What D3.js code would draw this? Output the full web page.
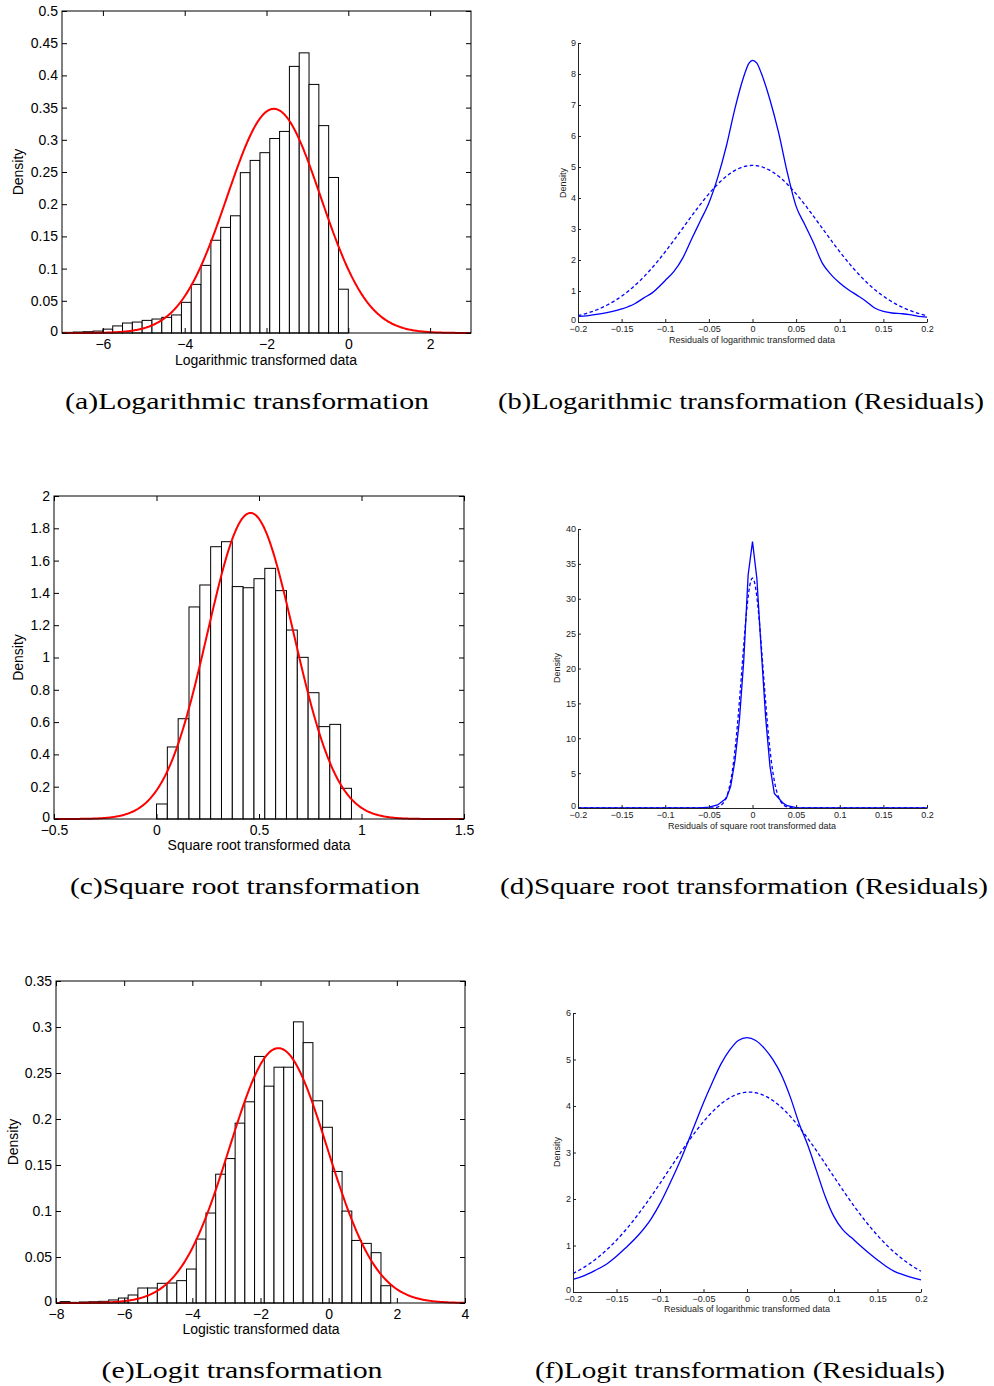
<!DOCTYPE html>
<html>
<head>
<meta charset="utf-8">
<script src="https://cdn.jsdelivr.net/npm/d3@7"></script>
<style>
  body { margin: 0; background: #fff; }
  svg text { font-family: "Liberation Sans", Arial, sans-serif; }
  .caption { font-family: "Liberation Serif", "Times New Roman", serif !important; }
</style>
</head>
<body>
<div id="chart"></div>
<script>
const width = 994;
const height = 1386;

// Histogram bins: [first edge, last edge] and the density of each bin
const logBins = [-6.96, 0];
const logDensity = [0.001, 0.0015, 0.002, 0.003, 0.006, 0.011, 0.0155, 0.017, 0.0196, 0.0217,
  0.0243, 0.028, 0.0476, 0.0755, 0.105, 0.144, 0.164, 0.182, 0.249, 0.268,
  0.280, 0.302, 0.313, 0.414, 0.435, 0.386, 0.322, 0.2415, 0.068];
const logFit = [-1.82, 1.146]; // fitted normal: mean, sd

const sqrtBins = [0, 0.951];
const sqrtDensity = [0.093, 0.446, 0.621, 1.313, 1.449, 1.686, 1.717, 1.439, 1.432, 1.488,
  1.552, 1.414, 1.170, 1.001, 0.782, 0.572, 0.586, 0.19];
const sqrtFit = [0.4586, 0.2105];

const logitBins = [-7.88, 1.82];
const logitDensity = [0.0015, 0.0007, 0.0011, 0.0014, 0.0018, 0.0033, 0.0054, 0.0087, 0.0163, 0.0163,
  0.0214, 0.0217, 0.0243, 0.0369, 0.0695, 0.0978, 0.140, 0.157, 0.1955, 0.2187,
  0.268, 0.2357, 0.2563, 0.2563, 0.3056, 0.283, 0.2198, 0.191, 0.143, 0.0999,
  0.068, 0.0648, 0.0547, 0.0188];
const logitFit = [-1.477, 1.44];

// Residual kernel densities (solid) and fitted normals (dashed)
const resLogX = [-0.2, -0.19, -0.175, -0.15, -0.135, -0.125, -0.115, -0.1, -0.09, -0.08,
  -0.07, -0.06, -0.05, -0.04, -0.03, -0.02, -0.01, -0.004, 0, 0.005,
  0.01, 0.02, 0.03, 0.04, 0.05, 0.06, 0.07, 0.08, 0.09, 0.1,
  0.11, 0.12, 0.13, 0.14, 0.15, 0.16, 0.17, 0.18, 0.19, 0.2];
const resLogKde = [0.18, 0.2, 0.26, 0.42, 0.59, 0.77, 0.94, 1.34, 1.63, 2.06,
  2.66, 3.25, 3.84, 4.65, 5.67, 6.9, 7.92, 8.35, 8.44, 8.35,
  8.03, 7.17, 6.1, 4.81, 3.73, 3.14, 2.55, 1.9, 1.53, 1.26,
  1.04, 0.86, 0.67, 0.45, 0.34, 0.29, 0.27, 0.24, 0.18, 0.16];
const resLogFit = [0, 0.079];

const resSqrtX = [-0.2, -0.06, -0.05, -0.04, -0.03, -0.025, -0.02, -0.015, -0.01, -0.005, 0,
  0.005, 0.01, 0.015, 0.02, 0.025, 0.03, 0.035, 0.04, 0.05, 0.06, 0.2];
const resSqrtKde = [0, 0, 0.14, 0.43, 1.4, 3.1, 6.9, 12.6, 21.2, 33.4, 38.2,
  32.9, 22.7, 13.1, 6, 2.1, 1.4, 0.7, 0.33, 0.05, 0, 0];
const resSqrtFit = [0, 0.0121];

const resLogitX = [-0.2, -0.19, -0.175, -0.16, -0.15, -0.14, -0.125, -0.11, -0.1, -0.09,
  -0.075, -0.06, -0.05, -0.04, -0.03, -0.02, -0.01, 0, 0.01, 0.02,
  0.03, 0.04, 0.05, 0.06, 0.07, 0.08, 0.09, 0.1, 0.11, 0.12,
  0.13, 0.14, 0.15, 0.16, 0.17, 0.18, 0.19, 0.2];
const resLogitKde = [0.27, 0.33, 0.46, 0.62, 0.77, 0.94, 1.22, 1.58, 1.9, 2.28,
  2.9, 3.6, 4.07, 4.5, 4.9, 5.2, 5.41, 5.47, 5.41, 5.24,
  4.99, 4.65, 4.18, 3.62, 3.15, 2.6, 2.05, 1.62, 1.34, 1.17,
  1.0, 0.84, 0.69, 0.55, 0.44, 0.37, 0.31, 0.26];
const resLogitFit = [0.0025, 0.0928];

// Tick values
const logXTicks = [-6, -4, -2, 0, 2];
const logYTicks = d3.range(0, 0.501, 0.05);
const sqrtXTicks = [-0.5, 0, 0.5, 1, 1.5];
const sqrtYTicks = d3.range(0, 2.01, 0.2);
const logitXTicks = [-8, -6, -4, -2, 0, 2, 4];
const logitYTicks = d3.range(0, 0.351, 0.05);
const resXTicks = [-0.2, -0.15, -0.1, -0.05, 0, 0.05, 0.1, 0.15, 0.2];

const fmt = d3.format("~g");

let svg = d3.select("#chart").append("svg")
  .attr("width", width)
  .attr("height", height);

svg.append("rect").attr("width", width).attr("height", height).attr("fill", "#fff");

// normal density sampled across a domain
function normalCurve(fit, domain) {
  let [mu, sd] = fit;
  return d3.range(0, 401).map(i => {
    let x = domain[0] + (domain[1] - domain[0]) * i / 400;
    return [x, Math.exp(-0.5 * ((x - mu) / sd) ** 2) / (sd * Math.sqrt(2 * Math.PI))];
  });
}

// Left column: histogram + red normal fit, boxed axes with inward ticks
function histPanel(o) {
  let x = d3.scaleLinear().domain(o.xDomain).range([o.left, o.right]);
  let y = d3.scaleLinear().domain(o.yDomain).range([o.bottom, o.top]);
  let g = svg.append("g");
  let step = (o.bins[1] - o.bins[0]) / o.density.length;

  g.selectAll("rect.bar")
    .data(o.density)
    .enter().append("rect")
    .attr("class", "bar")
    .attr("x", (d, i) => x(o.bins[0] + i * step))
    .attr("y", d => y(d))
    .attr("width", x(o.bins[0] + step) - x(o.bins[0]))
    .attr("height", d => y(0) - y(d))
    .attr("fill", "#fff")
    .attr("stroke", "#000")
    .attr("stroke-width", 1);

  g.append("path")
    .datum(normalCurve(o.fit, o.xDomain))
    .attr("d", d3.line().x(d => x(d[0])).y(d => y(d[1])))
    .attr("fill", "none")
    .attr("stroke", "#f00")
    .attr("stroke-width", 2);

  let axes = [
    [d3.axisBottom(x).tickValues(o.xTicks).tickFormat(fmt).tickPadding(6), o.bottom, 0],
    [d3.axisTop(x).tickValues(o.xTicks).tickFormat(""), o.top, 0],
    [d3.axisLeft(y).tickValues(o.yTicks).tickFormat(fmt).tickPadding(4), 0, o.left],
    [d3.axisRight(y).tickValues(o.yTicks).tickFormat(""), 0, o.right]
  ];
  axes.forEach(([axis, ty, tx], k) => {
    let a = g.append("g")
      .attr("transform", `translate(${tx},${ty})`)
      .call(axis.tickSizeInner(-5).tickSizeOuter(0));
    a.select(".domain").remove();
    a.selectAll("line").attr("stroke", "#000");
    a.selectAll("text").attr("font-size", 14).attr("fill", "#000")
      .attr("font-family", "Liberation Sans, Arial, sans-serif");
    // lift the corner "0" so it clears the first x label
    if (k === 2) a.selectAll(".tick text").filter(d => d === 0).attr("dy", "0.15em");
  });

  g.append("rect")
    .attr("x", o.left).attr("y", o.top)
    .attr("width", o.right - o.left).attr("height", o.bottom - o.top)
    .attr("fill", "none").attr("stroke", "#000");

  g.append("text")
    .attr("transform", `translate(${o.yLabelX},${(o.top + o.bottom) / 2}) rotate(-90)`)
    .attr("text-anchor", "middle")
    .attr("font-size", 14)
    .text("Density");
  g.append("text")
    .attr("x", o.xLabelX).attr("y", o.xLabelY)
    .attr("text-anchor", "middle")
    .attr("font-size", 14)
    .text(o.xLabel);
}

// Right column: kernel density (solid) vs normal (dashed), left/bottom axes only
function residualPanel(o) {
  let x = d3.scaleLinear().domain([-0.2, 0.2]).range([o.left, o.right]);
  let y = d3.scaleLinear().domain([0, o.yMax]).range([o.bottom, o.top]);
  let g = svg.append("g");

  g.append("path")
    .datum(normalCurve(o.fit, [-0.2, 0.2]))
    .attr("d", d3.line().x(d => x(d[0])).y(d => y(d[1])))
    .attr("fill", "none")
    .attr("stroke", "#00f")
    .attr("stroke-width", 1.3)
    .attr("stroke-dasharray", "3.5,2.5");

  g.append("path")
    .datum(d3.zip(o.kx, o.ky))
    .attr("d", d3.line().curve(o.curve).x(d => x(d[0])).y(d => y(d[1])))
    .attr("fill", "none")
    .attr("stroke", "#00f")
    .attr("stroke-width", 1.3);

  let xa = g.append("g")
    .attr("transform", `translate(0,${o.bottom})`)
    .call(d3.axisBottom(x).tickValues(resXTicks).tickFormat(fmt)
      .tickSizeInner(-3).tickSizeOuter(0).tickPadding(4));
  let ya = g.append("g")
    .attr("transform", `translate(${o.left},0)`)
    .call(d3.axisLeft(y).tickValues(d3.range(0, o.yMax + 0.01, o.yStep)).tickFormat(fmt)
      .tickSizeInner(-3).tickSizeOuter(0).tickPadding(2));
  [xa, ya].forEach(a => {
    a.selectAll(".domain, line").attr("stroke", "#222");
    a.selectAll("text").attr("font-size", 9).attr("fill", "#222")
      .attr("font-family", "Liberation Sans, Arial, sans-serif");
  });
  // the "0" sits just above the first x label, as in the original
  ya.selectAll(".tick text").filter(d => d === 0).attr("dy", "0.05em");

  g.append("text")
    .attr("transform", `translate(${o.yLabelX},${o.yLabelY}) rotate(-90)`)
    .attr("text-anchor", "middle")
    .attr("font-size", 9)
    .attr("fill", "#222")
    .text("Density");
  g.append("text")
    .attr("x", o.xLabelX).attr("y", o.xLabelY)
    .attr("text-anchor", "middle")
    .attr("font-size", 9)
    .attr("fill", "#222")
    .text(o.xLabel);
}

function caption(text, cx, baseline, len) {
  svg.append("text")
    .attr("class", "caption")
    .attr("x", cx).attr("y", baseline)
    .attr("text-anchor", "middle")
    .attr("font-size", 24)
    .attr("textLength", len)
    .attr("lengthAdjust", "spacingAndGlyphs")
    .text(text);
}

histPanel({
  left: 62, right: 471, top: 11, bottom: 333,
  xDomain: [-7, 3], yDomain: [0, 0.5], xTicks: logXTicks, yTicks: logYTicks,
  bins: logBins, density: logDensity, fit: logFit,
  yLabelX: 23, xLabelX: 266, xLabelY: 365, xLabel: "Logarithmic transformed data"
});
histPanel({
  left: 54, right: 464, top: 496, bottom: 819,
  xDomain: [-0.5, 1.5], yDomain: [0, 2], xTicks: sqrtXTicks, yTicks: sqrtYTicks,
  bins: sqrtBins, density: sqrtDensity, fit: sqrtFit,
  yLabelX: 23, xLabelX: 259, xLabelY: 850, xLabel: "Square root transformed data"
});
histPanel({
  left: 56, right: 465, top: 981, bottom: 1303,
  xDomain: [-8, 4], yDomain: [0, 0.35], xTicks: logitXTicks, yTicks: logitYTicks,
  bins: logitBins, density: logitDensity, fit: logitFit,
  yLabelX: 18, xLabelX: 261, xLabelY: 1334, xLabel: "Logistic transformed data"
});

residualPanel({
  left: 578, right: 927, top: 43, bottom: 322, yMax: 9, yStep: 1,
  kx: resLogX, ky: resLogKde, fit: resLogFit, curve: d3.curveMonotoneX,
  yLabelX: 566, yLabelY: 183, xLabelX: 752, xLabelY: 343,
  xLabel: "Residuals of logarithmic transformed data"
});
residualPanel({
  left: 578, right: 927, top: 529, bottom: 808, yMax: 40, yStep: 5,
  kx: resSqrtX, ky: resSqrtKde, fit: resSqrtFit, curve: d3.curveLinear,
  yLabelX: 560, yLabelY: 668, xLabelX: 752, xLabelY: 829,
  xLabel: "Residuals of square root transformed data"
});
residualPanel({
  left: 573, right: 921, top: 1013, bottom: 1292, yMax: 6, yStep: 1,
  kx: resLogitX, ky: resLogitKde, fit: resLogitFit, curve: d3.curveMonotoneX,
  yLabelX: 560, yLabelY: 1152, xLabelX: 747, xLabelY: 1312,
  xLabel: "Residuals of logarithmic transformed data"
});

caption("(a)Logarithmic transformation", 247, 409, 364);
caption("(b)Logarithmic transformation (Residuals)", 741, 409, 486);
caption("(c)Square root transformation", 245, 894, 350);
caption("(d)Square root transformation (Residuals)", 744, 894, 488);
caption("(e)Logit transformation", 242, 1378, 281);
caption("(f)Logit transformation (Residuals)", 740, 1378, 410);
</script>
</body>
</html>
